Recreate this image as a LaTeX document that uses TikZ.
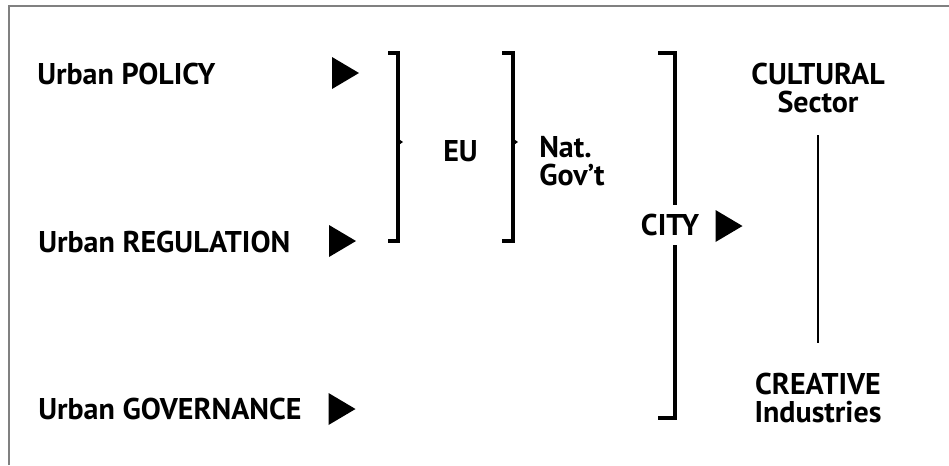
\documentclass[tikz,border=0pt]{standalone}
\usepackage{fontspec}
\setmainfont{PT Sans}
\begin{document}
\begin{tikzpicture}[x=0.75pt,y=-0.75pt,
  lbl/.style={font=\fontsize{22.5}{21}\selectfont\bfseries, inner sep=0pt},
  brk/.style={line width=2.3pt},
  mid/.style={line width=2pt},
  frame/.style={draw=black!50, line width=1.6pt},
  tri/.pic={\fill (-13.5,-16) -- (13.5,0) -- (-13.5,16) -- cycle;},
  notch/.pic={\fill (0,-3.5) -- (5,0) -- (0,3.5) -- cycle;}]
\useasboundingbox (0,0) rectangle (949,465);
\draw[frame] (9,465) -- (9,6) -- (949,6);
% left labels
\node[lbl, anchor=west] (pol) at (37,74) {Urban POLICY};
\node[lbl, anchor=west] (reg) at (38,242) {Urban REGULATION};
\node[lbl, anchor=west] (gov) at (38,409) {Urban GOVERNANCE};
\pic at (345.5,73) {tri};
\pic at (342.5,241) {tri};
\pic at (342,409) {tri};
% EU bracket
\coordinate (eut) at (398,53);
\coordinate (eub) at (398,241);
\draw[brk] (388,53) -- (eut) -- (eub) -- (388,241);
\pic at (398,142) {notch};
\node[lbl, anchor=west] (eu) at (443,151) {EU};
% Nat. Gov't bracket
\coordinate (ngt) at (513,53);
\coordinate (ngb) at (513,241);
\draw[brk] (502,53) -- (ngt) -- (ngb) -- (502,241);
\pic at (513,142) {notch};
\node[lbl, anchor=west, align=left] (ng) at (539,161) {Nat.\\Gov't};
% City bracket
\node[lbl] (city) at (670,225) {CITY};
\coordinate (ct) at (675,53);
\coordinate (cb) at (675,418);
\draw[brk] (658,53) -- (ct) -- (675,205);
\draw[brk] (675,245) -- (cb) -- (658,418);
\pic at (729,226) {tri};
% right side
\node[lbl, align=center] (cult) at (818,88) {CULTURAL\\Sector};
\node[lbl, align=center] (crea) at (818,398) {CREATIVE\\Industries};
\draw[mid] (818,135) -- (818,343);
\end{tikzpicture}
\end{document}
